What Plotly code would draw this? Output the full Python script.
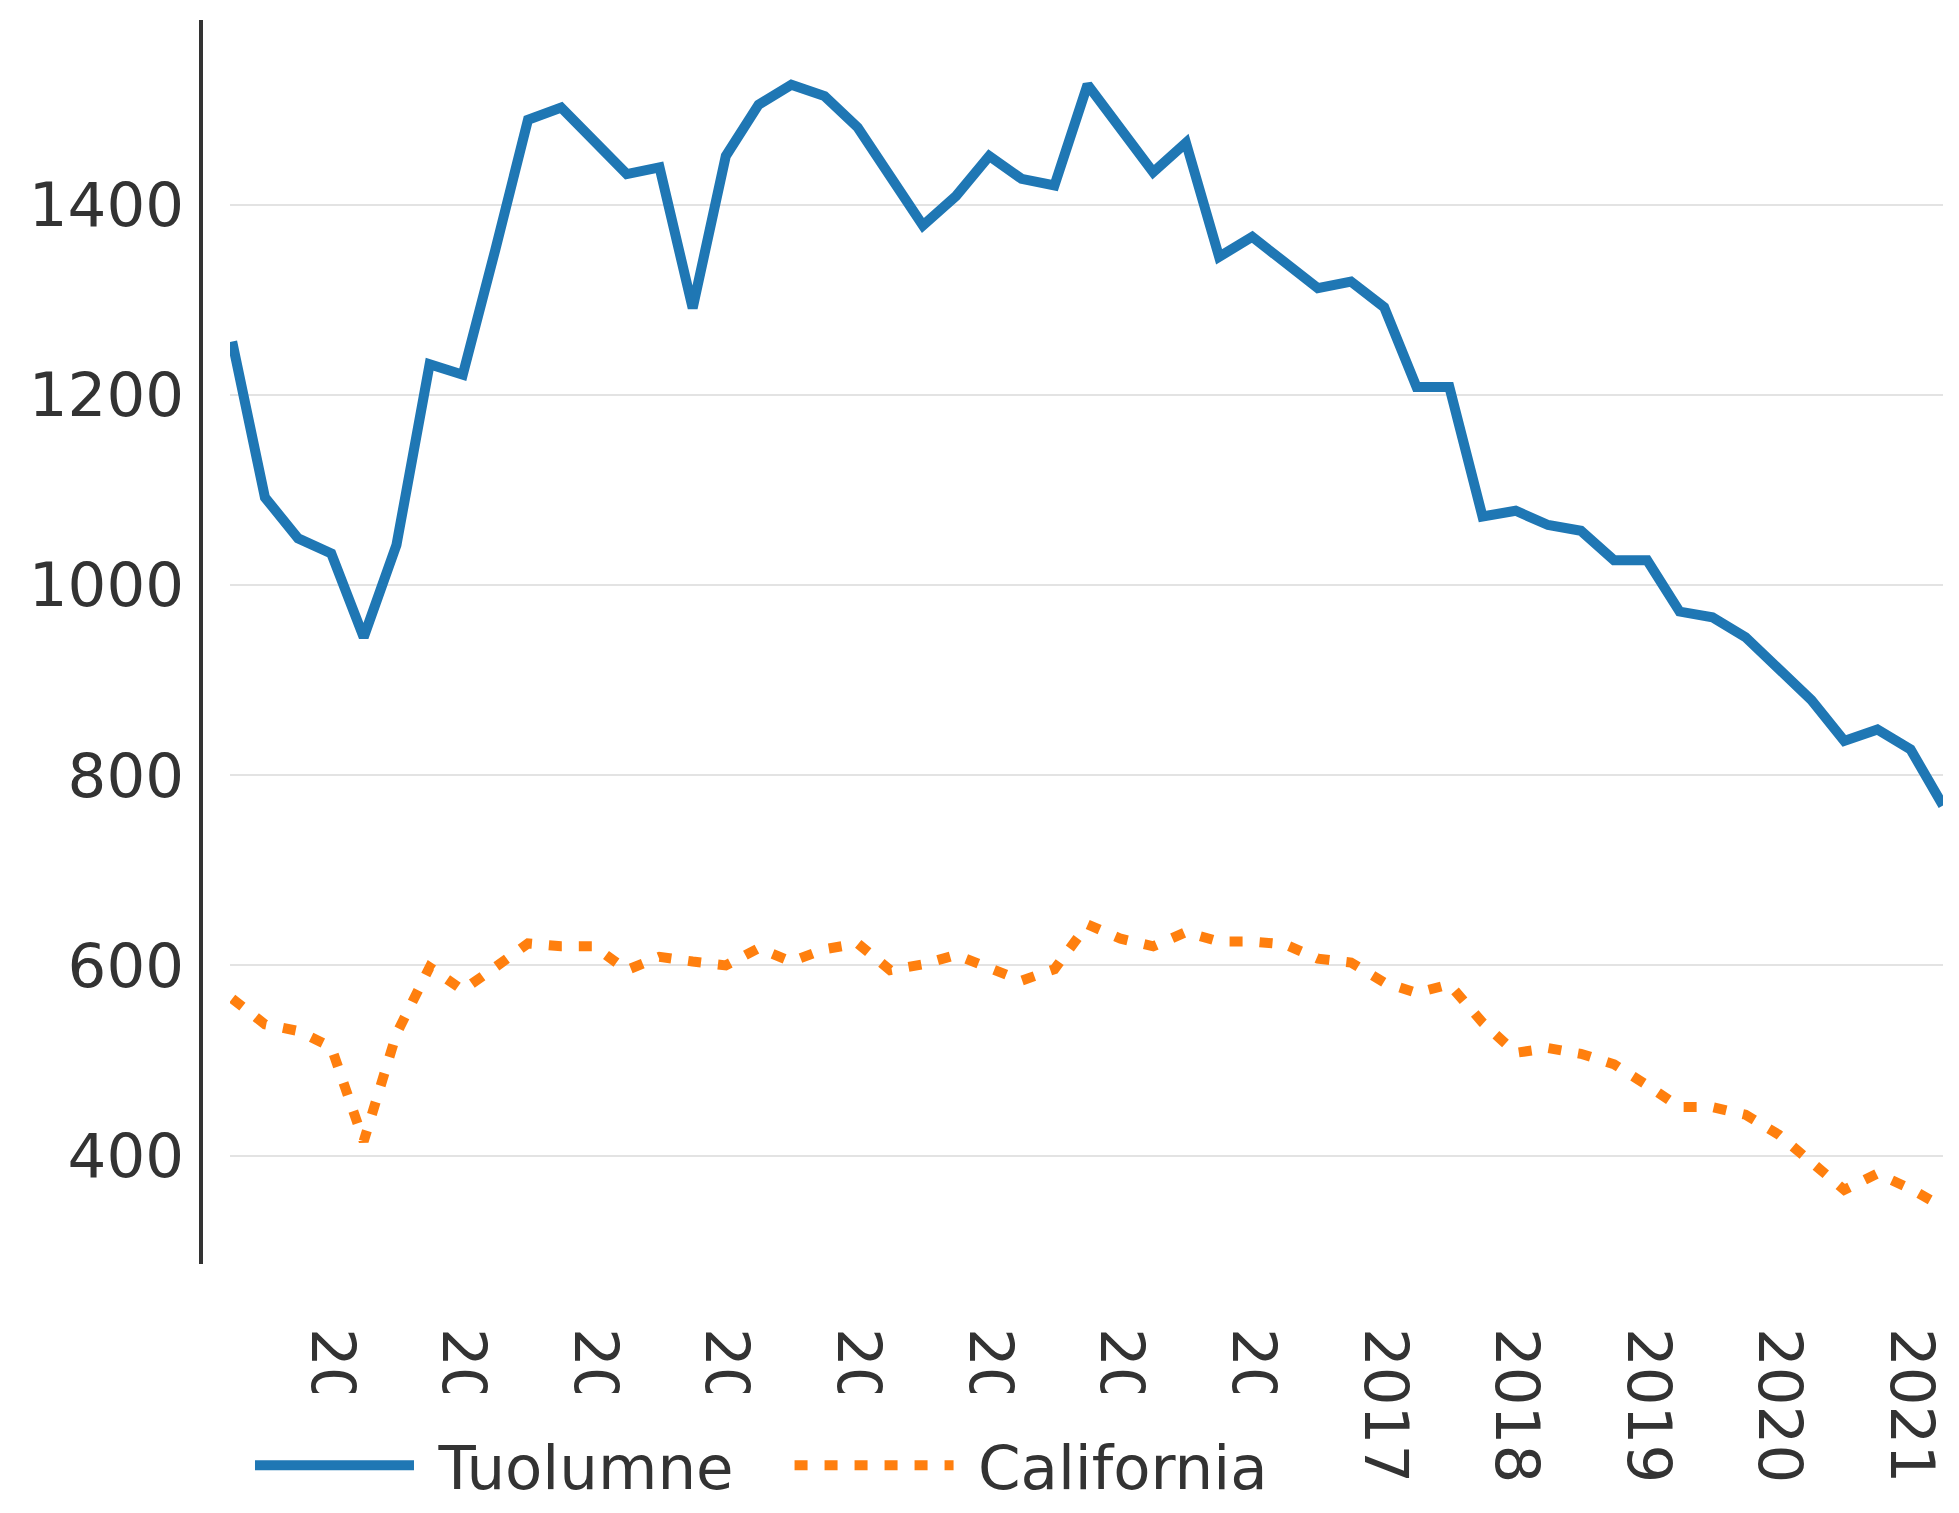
import plotly.graph_objects as go
import pandas as pd

# Quarterly observations, 2008 Q1 .. 2021 Q1
dates = pd.date_range("2008-03-31", periods=53, freq="QE").strftime("%Y-%m-%d").tolist()

tuolumne = [1256, 1092, 1049, 1033, 945, 1042, 1232, 1221, 1352, 1489,
            1502, 1465, 1432, 1439, 1291, 1451, 1505, 1526, 1514, 1481,
            1432, 1378, 1409, 1451, 1427, 1420, 1526, 1480, 1434, 1465,
            1345, 1366, 1339, 1312, 1319, 1292, 1208, 1208, 1072, 1078,
            1063, 1057, 1026, 1026, 972, 966, 945, 912, 879, 836,
            848, 827, 768]

california = [565, 538, 531, 514, 415, 528, 598, 574, 598, 623,
              620, 620, 595, 609, 604, 600, 618, 604, 617, 623,
              595, 601, 611, 596, 584, 596, 643, 628, 620, 635,
              625, 625, 622, 607, 603, 582, 571, 580, 540, 508,
              513, 507, 496, 474, 451, 451, 443, 422, 393, 364,
              381, 365, 346]

y_ticks = [400, 600, 800, 1000, 1200, 1400]

FONT = "Verdana, DejaVu Sans, sans-serif"
FS = 61
NB = "\u00a0"

fig = go.Figure()
fig.add_trace(go.Scatter(x=dates, y=tuolumne, name=NB + "Tuolumne" + NB * 2 + "\u2009", mode="lines",
                         line=dict(color="#1f77b4", width=10)))
fig.add_trace(go.Scatter(x=dates, y=california, name=NB + "California", mode="lines",
                         line=dict(color="#ff7f0e", width=10, dash="13px,17px")))

fig.update_layout(
    width=1943, height=1497,
    margin=dict(l=193, r=8, t=12, b=241, autoexpand=False),
    paper_bgcolor="white", plot_bgcolor="white",
    font=dict(family=FONT, size=FS, color="#333333"),
    showlegend=True,
    legend=dict(orientation="h", x=0.01320, y=-0.1037, xanchor="left", yanchor="top",
                bgcolor="white", bordercolor="white", borderwidth=26,
                itemwidth=159, font=dict(size=FS, color="#333333")),
    xaxis=dict(domain=[0.01665, 1], type="date",
               range=["2008-03-25", "2021-03-31"],
               tickformat="%Y", dtick="M12", tick0="2009-01-01",
               tickangle=90, showgrid=False, showline=False, zeroline=False,
               ticks="", automargin=False, ticklabelstandoff=63,
               tickfont=dict(family=FONT, size=FS, color="#333333")),
    yaxis=dict(anchor="free", position=0, range=[286, 1594],
               tickvals=y_ticks, showgrid=True, gridcolor="#e3e3e3", gridwidth=2,
               showline=True, linecolor="#333333", linewidth=3.5, zeroline=False,
               ticks="", automargin=False, ticklabelstandoff=3,
               tickfont=dict(family=FONT, size=FS, color="#333333")),
)

fig.write_html("out.html")
